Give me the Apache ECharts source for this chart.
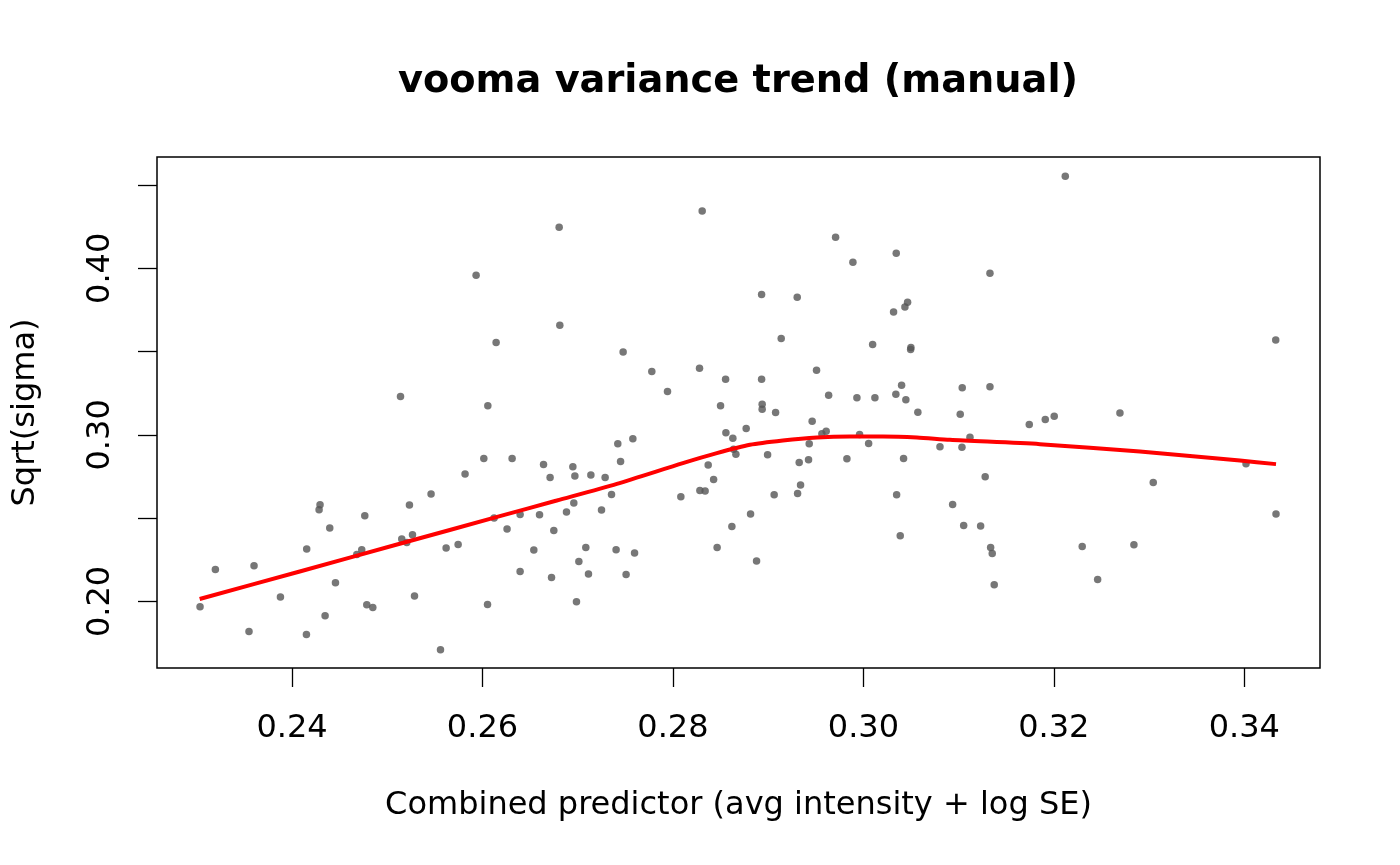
<!DOCTYPE html>
<html>
<head>
<meta charset="utf-8">
<script src="https://cdn.jsdelivr.net/npm/echarts@6/dist/echarts.min.js"></script>
<style>html,body{margin:0;padding:0;background:#fff;}#c{width:1400px;height:865px;}</style>
</head>
<body>
<div id="c"></div>
<script>
const titleText = 'vooma variance trend (manual)';
const xName = 'Combined predictor (avg intensity + log SE)';
const yName = 'Sqrt(sigma)';

const xVals = [0.23034,0.23195,0.23548,0.23601,0.23878,0.24154,0.24151,0.24284,0.24294,0.24347,
0.24396,0.24456,0.2468,0.24732,0.24764,0.24785,0.24848,0.25152,0.25205,0.25233,
0.25265,0.25286,0.2546,0.25559,0.25618,0.25744,0.25817,0.26014,0.26053,0.26122,
0.26258,0.26311,0.26395,0.26395,0.26539,0.26599,0.26641,0.2671,0.26725,0.26749,
0.25933,0.26143,0.25139,0.26056,0.26805,0.26812,
0.28307,0.29708,0.30345,0.2989,0.28931,0.29305,0.30464,0.30436,0.30317,0.29137,
0.30097,0.30499,0.30496,0.27477,0.27778,0.28279,0.28553,0.28931,0.29508,0.27943,
0.29635,0.29932,0.30121,0.30341,0.30401,0.30446,0.285,0.28937,0.28937,0.29078,0.30572,
0.26949,0.2697,0.27138,0.27288,0.27421,0.2745,0.27579,0.27355,0.26959,0.26882,
0.2725,0.27085,0.27012,0.27403,0.27597,0.27113,0.27508,0.26987,0.28083,0.28283,
0.28338,0.2837,0.28427,0.28556,0.28629,0.28637,0.28661,0.28769,0.28464,0.28619,
0.28815,0.28878,0.28994,0.29063,0.29309,0.2934,0.29326,0.29424,0.29431,0.29462,
0.29564,0.29609,0.29827,0.2996,0.30055,0.30349,0.30387,0.30422,0.30804,
0.3212,0.31329,0.3433,0.31038,0.31329,0.31017,0.31742,0.3191,0.32004,0.32694,
0.31119,0.31035,0.31279,0.30937,0.31053,0.31231,0.31336,0.31353,0.31374,0.32298,
0.3246,0.32841,0.33044,0.34018,0.34333];

const yVals = [0.19682,0.2192,0.182,0.22142,0.20264,0.23144,0.1802,0.25502,0.25802,0.19142,
0.24404,0.21122,0.2282,0.23102,0.25142,0.19802,0.1964,0.23744,0.2354,0.25784,
0.24002,0.20324,0.26444,0.17102,0.23204,0.2342,0.27644,0.2858,0.1982,0.25004,
0.24344,0.2858,0.2522,0.218,0.23084,0.25202,0.2822,0.2744,0.2144,0.2426,
0.39584,0.3554,0.323,0.31742,0.42464,0.36584,
0.43442,0.41864,0.40904,0.40364,0.3842,0.38264,0.37964,0.37682,0.37382,0.3578,
0.3542,0.3524,0.3512,0.34982,0.338,0.34004,0.33344,0.33344,0.33884,0.326,
0.32384,0.32222,0.32222,0.32444,0.32984,0.32102,0.31742,0.31844,0.31544,0.3134,0.31364,
0.28082,0.27524,0.27584,0.2744,0.29462,0.284,0.29762,0.2642,0.25904,0.25364,
0.25484,0.2324,0.224,0.23102,0.22904,0.21644,0.2162,0.19982,0.26282,0.2666,
0.26624,0.28184,0.2732,0.30122,0.29804,0.29144,0.28844,0.3038,0.2324,0.245,
0.25244,0.22424,0.28802,0.26402,0.2648,0.26984,0.2834,0.28502,0.29462,0.30824,
0.30062,0.30224,0.28562,0.3002,0.2948,0.26402,0.23942,0.2858,0.29282,
0.45524,0.39704,0.35702,0.32822,0.32882,0.31232,0.3062,0.3092,0.31112,0.3131,
0.29864,0.29264,0.27482,0.2582,0.2456,0.24524,0.2324,0.2288,0.21002,0.233,
0.2132,0.23402,0.2714,0.28262,0.25244];

const trendX = [0.2303,0.24081,0.25131,0.26182,0.2678,0.27411,0.28104,0.28461,0.28808,0.29154,
0.29512,0.29858,0.30205,0.30562,0.30908,0.31854,0.32904,0.33955,0.34333];
const trendY = [0.20144,0.218,0.23462,0.25118,0.2606,0.27062,0.28304,0.28904,0.29402,0.2966,
0.2984,0.299,0.299,0.2984,0.29702,0.29444,0.29,0.2846,0.28244];

const xTickValues = [0.24,0.26,0.28,0.30,0.32,0.34];
const yTickValues = [0.20,0.25,0.30,0.35,0.40,0.45];
const yLabelValues = [0.20,0.30,0.40];

const points = xVals.map((x, i) => [x, yVals[i]]);
const trend = trendX.map((x, i) => [x, trendY[i]]);

const FONT = 'DejaVu Sans';
const chart = echarts.init(document.getElementById('c'), null, {renderer: 'canvas'});
chart.setOption({
  animation: false,
  backgroundColor: '#ffffff',
  title: {
    text: titleText,
    left: 733, top: 58, textAlign: 'center',
    textStyle: {fontFamily: FONT, fontSize: 38.3, fontWeight: 'bold', color: '#000'}
  },
  grid: {left: 157, right: 80, top: 157, bottom: 197, show: true, borderColor: '#000', borderWidth: 1.5, backgroundColor: 'transparent'},
  xAxis: {
    type: 'value', min: 0.225819, max: 0.34795,
    name: xName, nameLocation: 'middle', nameGap: 122,
    nameTextStyle: {fontFamily: FONT, fontSize: 32, color: '#000'},
    axisLine: {show: false},
    splitLine: {show: false},
    axisTick: {show: true, length: 19, customValues: xTickValues, lineStyle: {color: '#000', width: 1.3}},
    axisLabel: {customValues: xTickValues, margin: 45, fontFamily: FONT, fontSize: 32, color: '#000',
      formatter: v => v.toFixed(2)}
  },
  yAxis: {
    type: 'value', min: 0.16004, max: 0.46682,
    name: yName, nameLocation: 'middle', nameGap: 115, nameRotate: 90,
    nameTextStyle: {fontFamily: FONT, fontSize: 32, color: '#000'},
    axisLine: {show: false},
    splitLine: {show: false},
    axisTick: {show: true, length: 19, customValues: yTickValues, lineStyle: {color: '#000', width: 1.3}},
    axisLabel: {customValues: yLabelValues, rotate: 90, margin: 40, fontFamily: FONT, fontSize: 32, color: '#000',
      formatter: v => v.toFixed(2)}
  },
  series: [
    {type: 'scatter', data: points, symbol: 'circle', symbolSize: 7.5,
     itemStyle: {color: '#555555'}, z: 2, silent: true},
    {type: 'line', data: trend, showSymbol: false, smooth: 0.25,
     lineStyle: {color: '#ff0000', width: 4}, z: 3, silent: true}
  ]
});
</script>
</body>
</html>
